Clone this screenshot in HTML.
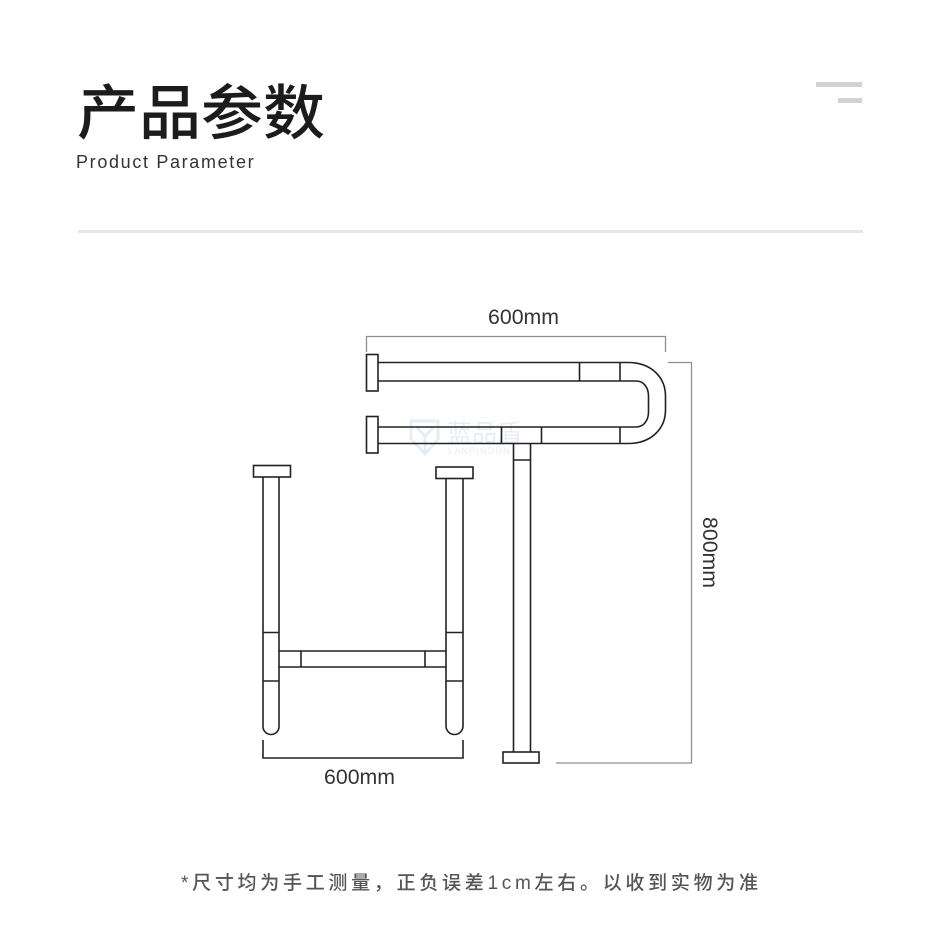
<!DOCTYPE html>
<html lang="zh"><head><meta charset="utf-8"><style>
html,body{margin:0;padding:0;background:#fff}
#p{position:relative;width:940px;height:935px;overflow:hidden;background:#fff}
#p div{position:absolute;white-space:nowrap}
svg{position:absolute;left:0;top:0}
</style></head><body><div id="p">
<div style="left:77px;top:63px;font:500 62px/90px 'Noto Sans CJK SC',sans-serif;color:#1c1c1c;transform:scaleY(.96);transform-origin:0 50%">产品参数</div>
<div style="left:76px;top:150px;font:18px/24px 'Liberation Sans',sans-serif;letter-spacing:1.66px;color:#333">Product Parameter</div>
<div style="left:816px;top:82px;width:46px;height:5px;background:#d2d2d2"></div>
<div style="left:838px;top:98px;width:24px;height:5px;background:#d2d2d2"></div>
<div style="left:78px;top:230px;width:785px;height:3px;background:#e6e6e6"></div>

<svg width="940" height="935" viewBox="0 0 940 935" fill="none">
<g stroke="#e6edf6" stroke-width="3"><path d="M411 421h27v18l-13 15-14-15zM417 428l8 8 8-8M425 436v16"/></g>
<text x="447" y="442" font-family="'Noto Sans CJK SC',sans-serif" font-size="25" fill="#e6edf6">蓝品盾</text>
<text x="448" y="454" font-family="'Liberation Sans',sans-serif" font-size="9" letter-spacing="1.2" fill="#e6edf6">LANPINDUN</text>

<g stroke="#8f8f8f" stroke-width="1.3">
<path d="M366.500 352V336.500H665.500V352"/>
<path d="M668 362.500H691.500V763H556"/>
</g>
<g stroke="#222" stroke-width="1.6">
<path d="M378 362.500H628C652 362.500 665.500 378 665.500 396V410C665.500 428 652 443.500 628 443.500H378"/>
<path d="M378 381H636C644 381 648.500 388 648.500 396V412C648.500 420 644 427 636 427H378"/>
<path d="M579.500 362.500V381M620 362.500V381M501.500 427V443.500M541.500 427V443.500M620 427V443.500"/>
<rect x="366.500" y="354.500" width="11.500" height="36.500" fill="#fff"/>
<rect x="366.500" y="416.500" width="11.500" height="36.500" fill="#fff"/>
<path d="M513.500 443.500V752M530.500 443.500V752M513.500 460H530.500"/>
<rect x="503" y="752" width="36" height="11" fill="#fff"/>
<rect x="253.500" y="465.500" width="37" height="11.500" fill="#fff"/>
<rect x="436" y="467" width="37" height="11.500" fill="#fff"/>
<path d="M263 477V726.500A8 8 0 0 0 279 726.500V477"/>
<path d="M446 478.500V726A8.500 8.500 0 0 0 463 726V478.500"/>
<path d="M263 632.500H279M263 681H279M446 632.500H463M446 681H463"/>
<path d="M279 651H446M279 667H446M301 651V667M425 651V667"/>
<path d="M263 740V758H463V740"/>
</g>
<text x="488" y="324" font-family="'Liberation Sans',sans-serif" font-size="21.300" fill="#333">600mm</text>
<text x="324" y="784" font-family="'Liberation Sans',sans-serif" font-size="21.300" fill="#333">600mm</text>
<text transform="translate(703 517) rotate(90)" font-family="'Liberation Sans',sans-serif" font-size="21.300" fill="#333">800mm</text>
</svg>

<div style="left:181px;top:871px;font:500 19px/26px 'Liberation Sans','Noto Sans CJK SC',sans-serif;letter-spacing:3.72px;color:#555">*尺寸均为手工测量，正负误差1cm左右。以收到实物为准</div>
</div></body></html>
